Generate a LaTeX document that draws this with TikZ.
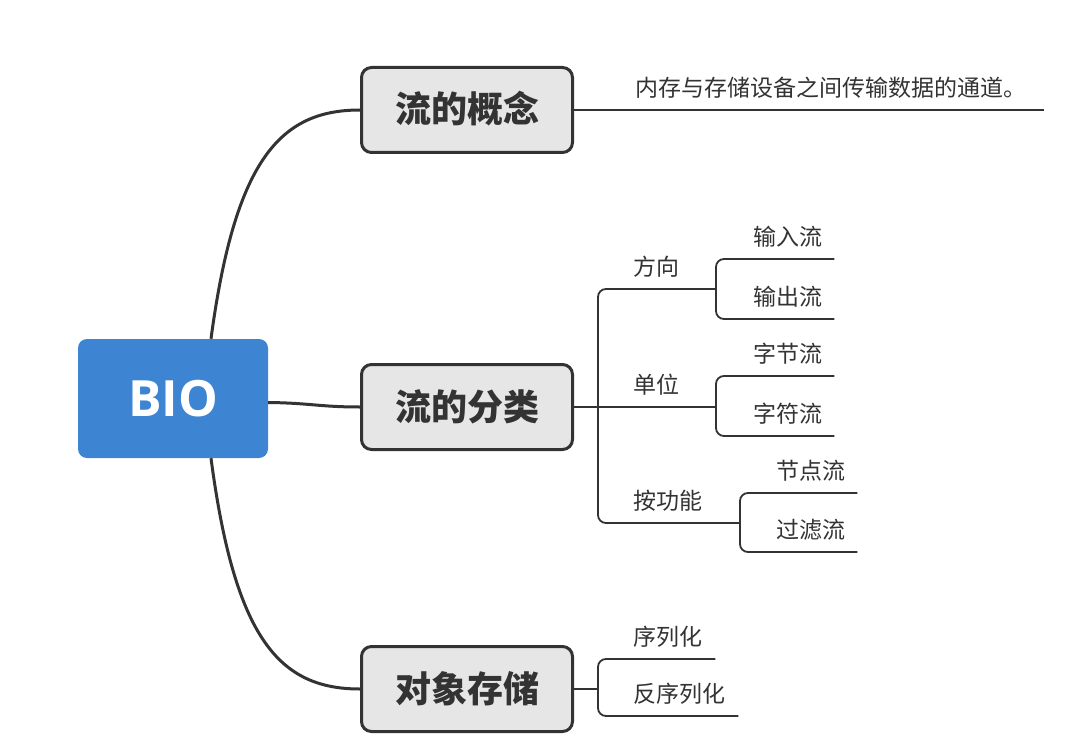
\documentclass[tikz,border=0pt]{standalone}
\usepackage{fontspec}
\newfontfamily\cjk{Noto Sans CJK SC}
\newfontfamily\latinsans{Open Sans}
\definecolor{linegray}{HTML}{333333}
\definecolor{boxfill}{HTML}{E6E6E6}
\definecolor{bioblue}{HTML}{3D85D3}
\tikzset{
  root/.style={fill=bioblue, rounded corners=9pt, minimum width=190pt, minimum height=119pt,
    inner sep=0pt, text=white, font=\latinsans\bfseries\fontsize{50}{50}\selectfont, text height=36pt, text depth=0pt},
  topic/.style={draw=linegray, line width=3pt, fill=boxfill, rounded corners=10pt,
    minimum width=211pt, minimum height=85pt, inner sep=0pt, text=linegray,
    font=\cjk\bfseries\fontsize{36}{36}\selectfont, text height=31pt, text depth=5pt},
  leaf/.style={anchor=south west, inner xsep=0pt, inner ysep=0pt, text depth=13pt,
    text=linegray, font=\cjk\fontsize{23}{23}\selectfont},
  mainlink/.style={draw=linegray, line width=3pt},
  leaflink/.style={draw=linegray, line width=1.8pt, rounded corners=8pt},
}
\begin{document}
\begin{tikzpicture}[x=1pt,y=-1pt]
\useasboundingbox (0,0) rectangle (1079,741);
% root and topics
\node[root] (bio) at (173,398.5) {BIO};
\node[topic] (gn) at (467,110) {流的概念};
\node[topic] (fl) at (467,407) {流的分类};
\node[topic] (dx) at (467,689) {对象存储};
% main connectors
\draw[mainlink] ([xshift=38pt]bio.north) .. controls (235,160) and (280,110) .. (gn.west);
\draw[mainlink] ([yshift=-4pt]bio.east) .. controls (310,403) and (320,407) .. (fl.west);
\draw[mainlink] ([xshift=38pt]bio.south) .. controls (235,640) and (280,689) .. (dx.west);
% leaves of 流的概念
\node[leaf] (desc) at (635,110) {内存与存储设备之间传输数据的通道。};
\draw[leaflink] (gn.east) -- (desc.south west) -- ([xshift=18pt]desc.south east);
% leaves of 流的分类
\coordinate (j1) at (598,407);
\node[leaf] (fx) at (633,289) {方向};
\node[leaf] (dw) at (633,407) {单位};
\node[leaf] (agn) at (633,523) {按功能};
\coordinate (jfx) at (716,289);
\coordinate (jdw) at (716,407);
\coordinate (jagn) at (740,523);
\draw[leaflink] (fl.east) -- (j1);
\draw[leaflink] (j1) |- (fx.south west) -- (jfx);
\draw[leaflink] (j1) -- (dw.south west) -- (jdw);
\draw[leaflink] (j1) |- (agn.south west) -- (jagn);
\node[leaf] (in) at (753,259) {输入流};
\node[leaf] (out) at (753,319) {输出流};
\draw[leaflink] (jfx) |- (in.south west) -- ([xshift=12pt]in.south east);
\draw[leaflink] (jfx) |- (out.south west) -- ([xshift=12pt]out.south east);
\node[leaf] (zj) at (753,376) {字节流};
\node[leaf] (zf) at (753,436) {字符流};
\draw[leaflink] (jdw) |- (zj.south west) -- ([xshift=12pt]zj.south east);
\draw[leaflink] (jdw) |- (zf.south west) -- ([xshift=12pt]zf.south east);
\node[leaf] (jd) at (776,493) {节点流};
\node[leaf] (gl) at (776,552) {过滤流};
\draw[leaflink] (jagn) |- (jd.south west) -- ([xshift=12pt]jd.south east);
\draw[leaflink] (jagn) |- (gl.south west) -- ([xshift=12pt]gl.south east);
% leaves of 对象存储
\coordinate (j3) at (598,689);
\node[leaf] (xl) at (633,659) {序列化};
\node[leaf] (fxl) at (633,716) {反序列化};
\draw[leaflink] (dx.east) -- (j3);
\draw[leaflink] (j3) |- (xl.south west) -- ([xshift=13pt]xl.south east);
\draw[leaflink] (j3) |- (fxl.south west) -- ([xshift=13pt]fxl.south east);
\end{tikzpicture}
\end{document}
